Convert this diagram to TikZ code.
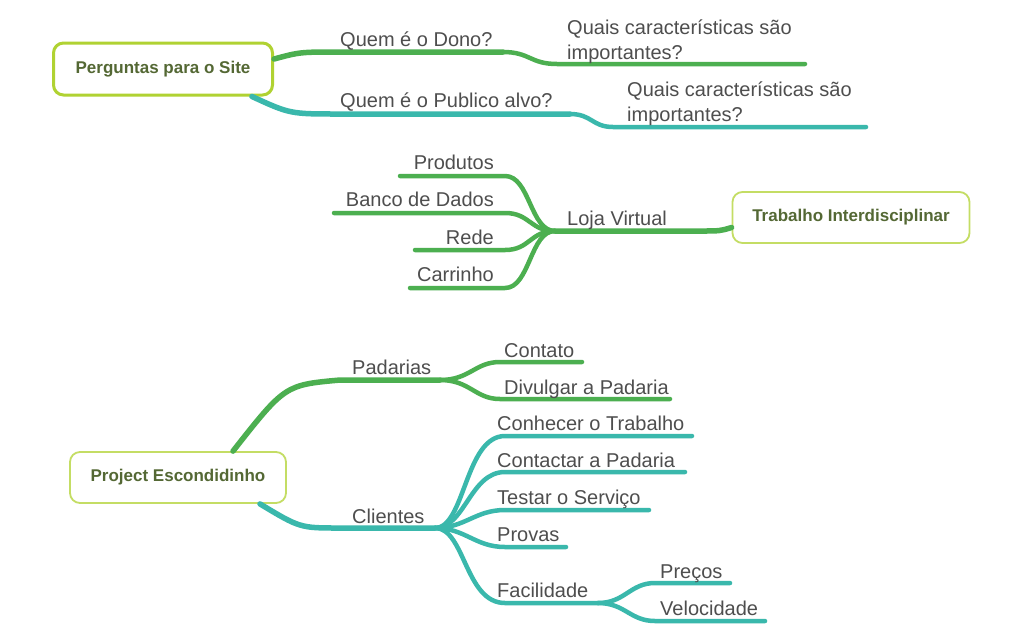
\documentclass[tikz,border=0pt]{standalone}
\usepackage{fontspec}
\setmainfont{Liberation Sans}
\usetikzlibrary{calc}
\definecolor{gbr}{RGB}{76,175,80}
\definecolor{tbr}{RGB}{58,184,172}
\definecolor{txtc}{RGB}{78,78,78}
\definecolor{boxtxt}{RGB}{84,104,52}
\definecolor{limeA}{RGB}{176,210,50}
\definecolor{limeB}{RGB}{196,221,100}
\begin{document}
\begin{tikzpicture}[x=1pt,y=-1pt,
  lbl/.style={font=\fontsize{20}{25}\selectfont, text=txtc, inner sep=0pt},
  mapbox/.style={rounded corners=10pt, fill=white, font=\fontsize{17}{20}\selectfont\bfseries, text=boxtxt, inner sep=0pt},
  gline/.style={draw=gbr, line width=4.5pt, line cap=round},
  tline/.style={draw=tbr, line width=4.5pt, line cap=round},
  main/.style={line width=5.5pt}]
\useasboundingbox[fill=white] (0,0) rectangle (1024,633);

% ---------- boxes ----------
\node[mapbox, draw=limeA, line width=3pt, minimum width=219pt, minimum height=52pt] (site) at (163,69) {Perguntas para o Site};
\node[mapbox, draw=limeB, line width=1.8pt, minimum width=237pt, minimum height=51pt] (ti) at (851,217.5) {Trabalho Interdisciplinar};
\node[mapbox, draw=limeB, line width=1.8pt, minimum width=216pt, minimum height=51pt] (pe) at (178,477.5) {Project Escondidinho};

% ---------- top map ----------
\coordinate (q1a) at (340,52); \coordinate (q1b) at (503,52);
\coordinate (q1c) at (557,64); \coordinate (q1d) at (805,64);
\coordinate (q2a) at (340,114); \coordinate (q2b) at (570,114);
\coordinate (q2c) at (613,127); \coordinate (q2d) at (866,127);

\draw[gline, main] ([yshift=10pt]site.east) .. controls (300,52) .. (q1a) -- (q1b);
\draw[gline] (q1b) .. controls (530,52) and (530,64) .. (q1c) -- (q1d);
\draw[tline, main] ([xshift=-22pt]site.south east) .. controls (290,114) .. (q2a) -- (q2b);
\draw[tline] (q2b) .. controls (592,114) and (592,127) .. (q2c) -- (q2d);

\node[lbl, anchor=base west] (dono) at (340,46) {Quem é o Dono?};
\node[lbl, anchor=south west, align=left] (car1) at (567,64) {Quais características são\\importantes?};
\node[lbl, anchor=base west] (pub) at (340,107) {Quem é o Publico alvo?};
\node[lbl, anchor=south west, align=left] (car2) at (627,126) {Quais características são\\importantes?};

% ---------- middle map ----------
\coordinate (hub) at (555,231);
\coordinate (lv) at (700,231);
\coordinate (p1) at (400,176); \coordinate (p2) at (505,176);
\coordinate (b1) at (334,213); \coordinate (b2) at (505,213);
\coordinate (r1) at (415,250); \coordinate (r2) at (505,250);
\coordinate (c1) at (410,288); \coordinate (c2) at (505,288);

\draw[gline, main] ([yshift=-10pt]ti.west) .. controls (720,231) .. (lv) -- (hub);
\draw[gline] (hub) .. controls (530,231) and (530,176) .. (p2) -- (p1);
\draw[gline] (hub) .. controls (530,231) and (530,213) .. (b2) -- (b1);
\draw[gline] (hub) .. controls (530,231) and (530,250) .. (r2) -- (r1);
\draw[gline] (hub) .. controls (530,231) and (530,288) .. (c2) -- (c1);

\node[lbl, anchor=base west] (loja) at (567,225) {Loja Virtual};
\node[lbl, anchor=base east] (prod) at (494,169) {Produtos};
\node[lbl, anchor=base east] (banco) at (494,206) {Banco de Dados};
\node[lbl, anchor=base east] (rede) at (494,244) {Rede};
\node[lbl, anchor=base east] (carr) at (494,281) {Carrinho};

% ---------- bottom map ----------
\coordinate (pa1) at (340,380); \coordinate (pah) at (440,380);
\coordinate (ct1) at (500,362); \coordinate (ct2) at (582,362);
\coordinate (dv1) at (500,399); \coordinate (dv2) at (670,399);

\draw[gline, main] ([xshift=55pt]pe.north) .. controls (285,385) .. (pa1) -- (pah);
\draw[gline] (pah) .. controls (470,380) and (475,362) .. (ct1) -- (ct2);
\draw[gline] (pah) .. controls (470,380) and (475,399) .. (dv1) -- (dv2);

\coordinate (cl1) at (340,528); \coordinate (clh) at (435,528);
\coordinate (k1) at (505,436); \coordinate (k2) at (692,436);
\coordinate (m1) at (505,472); \coordinate (m2) at (685,472);
\coordinate (s1) at (505,510); \coordinate (s2) at (649,510);
\coordinate (v1) at (505,547); \coordinate (v2) at (566,547);
\coordinate (f1) at (505,603); \coordinate (fh) at (598,603);
\coordinate (pr1) at (655,583); \coordinate (pr2) at (730,583);
\coordinate (ve1) at (655,621); \coordinate (ve2) at (765,621);

\draw[tline, main] ([xshift=82pt]pe.south) .. controls (300,528) .. (cl1) -- (clh);
\draw[tline] (clh) .. controls (465,528) and (465,436) .. (k1) -- (k2);
\draw[tline] (clh) .. controls (465,528) and (470,472) .. (m1) -- (m2);
\draw[tline] (clh) .. controls (465,528) and (475,510) .. (s1) -- (s2);
\draw[tline] (clh) .. controls (465,528) and (475,547) .. (v1) -- (v2);
\draw[tline] (clh) .. controls (465,528) and (465,603) .. (f1) -- (fh);
\draw[tline] (fh) .. controls (625,603) and (630,583) .. (pr1) -- (pr2);
\draw[tline] (fh) .. controls (625,603) and (630,621) .. (ve1) -- (ve2);

\node[lbl, anchor=base west] (pad) at (352,374) {Padarias};
\node[lbl, anchor=base west] (cont) at (504,357) {Contato};
\node[lbl, anchor=base west] (div) at (504,394) {Divulgar a Padaria};
\node[lbl, anchor=base west] (cli) at (352,523) {Clientes};
\node[lbl, anchor=base west] (con) at (497,430) {Conhecer o Trabalho};
\node[lbl, anchor=base west] (ctp) at (497,467) {Contactar a Padaria};
\node[lbl, anchor=base west] (tes) at (497,504) {Testar o Serviço};
\node[lbl, anchor=base west] (prv) at (497,541) {Provas};
\node[lbl, anchor=base west] (fac) at (497,597) {Facilidade};
\node[lbl, anchor=base west] (prc) at (660,578) {Preços};
\node[lbl, anchor=base west] (vel) at (660,615) {Velocidade};
\end{tikzpicture}
\end{document}
